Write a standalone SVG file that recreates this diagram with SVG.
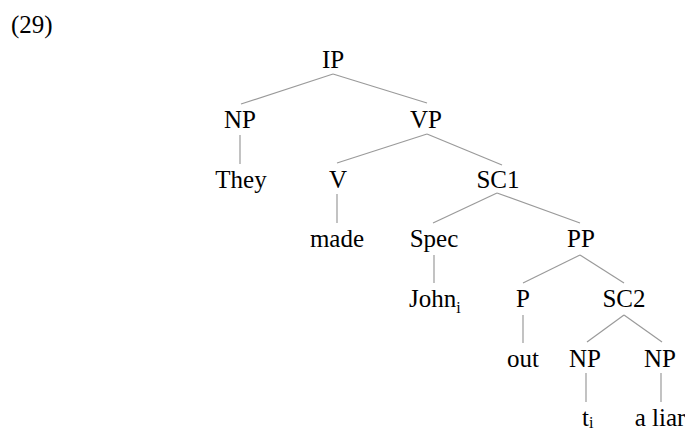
<svg xmlns="http://www.w3.org/2000/svg" width="685" height="432" viewBox="0 0 685 432">
<style>
text{font-family:"Liberation Serif","Times New Roman",serif;font-size:25px;fill:#000;text-anchor:middle}
.l{text-anchor:start}
.sub{font-size:16px}
#edges line{stroke:#9a9a9a;stroke-width:1.2}
</style>
<rect width="685" height="432" fill="#fff"/>
<text class="l" x="11" y="33">(29)</text>
<g id="edges">
<line x1="333" y1="74" x2="241" y2="104"/>
<line x1="333" y1="74" x2="427" y2="103"/>
<line x1="240" y1="135" x2="240" y2="164"/>
<line x1="427" y1="134" x2="337" y2="163"/>
<line x1="427" y1="134" x2="502" y2="165"/>
<line x1="337" y1="194" x2="337" y2="223"/>
<line x1="497" y1="193" x2="433" y2="223"/>
<line x1="497" y1="193" x2="580" y2="223"/>
<line x1="434" y1="255" x2="434" y2="283"/>
<line x1="580" y1="255" x2="523" y2="283"/>
<line x1="580" y1="255" x2="624" y2="283"/>
<line x1="523" y1="315" x2="523" y2="343"/>
<line x1="624" y1="315" x2="587" y2="342"/>
<line x1="624" y1="315" x2="662" y2="342"/>
<line x1="586" y1="373" x2="586" y2="402"/>
<line x1="661" y1="373" x2="661" y2="402"/>
</g>
<g id="n-IP"><text x="333" y="68">IP</text></g>
<g id="n-NP1"><text x="240" y="128">NP</text></g>
<g id="n-VP"><text x="426" y="128">VP</text></g>
<g id="n-They"><text x="241" y="188">They</text></g>
<g id="n-V"><text x="338" y="188">V</text></g>
<g id="n-SC1"><text x="498" y="188">SC1</text></g>
<g id="n-made"><text x="337" y="247">made</text></g>
<g id="n-Spec"><text x="434" y="247">Spec</text></g>
<g id="n-PP"><text x="581" y="247">PP</text></g>
<g id="n-John"><text class="l" x="409" y="307">John<tspan class="sub" dy="6">i</tspan></text></g>
<g id="n-P"><text x="523" y="307">P</text></g>
<g id="n-SC2"><text x="624" y="307">SC2</text></g>
<g id="n-out"><text x="523" y="367">out</text></g>
<g id="n-NP2"><text x="585" y="367">NP</text></g>
<g id="n-NP3"><text x="660" y="367">NP</text></g>
<g id="n-t"><text class="l" x="582" y="426">t<tspan class="sub" dy="2">i</tspan></text></g>
<g id="n-liar"><text x="660" y="426">a liar</text></g>
</svg>
